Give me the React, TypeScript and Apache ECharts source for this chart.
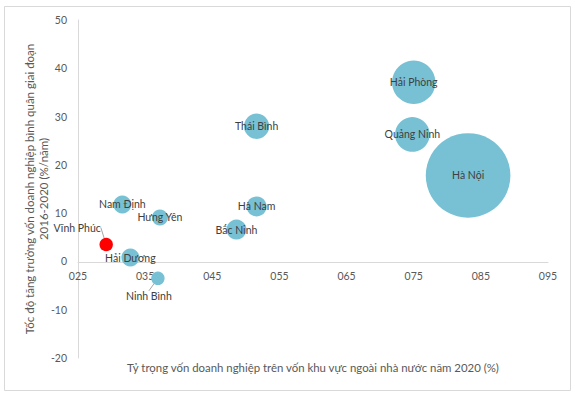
import React, { useEffect, useRef } from "react";
import * as echarts from "echarts";

const provinces = ["Hà Nội", "Hải Phòng", "Quảng Ninh", "Thái Bình", "Hà Nam", "Bắc Ninh", "Nam Định", "Hưng Yên", "Hải Dương", "Ninh Bình", "Vĩnh Phúc"];
const shareValues = [0.831, 0.75, 0.748, 0.516, 0.516, 0.486, 0.316, 0.372, 0.328, 0.369, 0.292];
const growthValues = [17.8, 37.1, 26.3, 28.0, 11.4, 6.6, 11.8, 9.1, 0.8, -3.5, 3.5];
const sizeValues = [1790, 470, 300, 160, 100, 100, 81, 64, 81, 45, 45];
const xTicks = { min: 0.25, max: 0.95, interval: 0.1 };
const yTicks = { min: -20, max: 50, interval: 10 };

const FONT = "Lato";

export default function App() {
  const ref = useRef<HTMLDivElement>(null);
  useEffect(() => {
    if (!ref.current) return;
    const chart = echarts.init(ref.current, null, { renderer: "svg" });
    const data = provinces.map((name, i) => {
      const item: any = {
        name,
        value: [shareValues[i], growthValues[i], sizeValues[i]],
        itemStyle: { color: name === "Vĩnh Phúc" ? "#FF0000" : "#78C1D4" },
      };
      if (name === "Vĩnh Phúc" || name === "Ninh Bình") {
        item.labelLine = { show: true, lineStyle: { color: "#A6A6A6", width: 1 } };
      }
      return item;
    });
    chart.setOption({
      animation: false,
      textStyle: { fontFamily: FONT },
      graphic: [
        {
          type: "rect",
          shape: { x: 4.5, y: 6.5, width: 566, height: 384 },
          style: { fill: "none", stroke: "#D9D9D9", lineWidth: 1 },
          silent: true,
        },
      ],
      grid: { left: 78, right: 27, top: 20, bottom: 39, containLabel: false, outerBoundsMode: "none" },
      xAxis: {
        type: "value",
        min: xTicks.min,
        max: xTicks.max,
        interval: xTicks.interval,
        position: "bottom",
        offset: -96,
        axisLine: { onZero: false, lineStyle: { color: "#D9D9D9", width: 1 } },
        axisTick: { show: false },
        splitLine: { show: false },
        axisLabel: {
          color: "#595959",
          fontSize: 10.5,
          fontFamily: FONT,
          margin: 8,
          formatter: (v: number) => String(Math.round(v * 100)).padStart(3, "0"),
        },
        name: "Tỷ trọng vốn doanh nghiệp trên vốn khu vực ngoài nhà nước năm 2020 (%)",
        nameLocation: "middle",
        nameGap: 100,
        nameMoveOverlap: false,
        nameTextStyle: { color: "#595959", fontSize: 11.4, fontFamily: FONT },
      },
      yAxis: {
        type: "value",
        min: yTicks.min,
        max: yTicks.max,
        interval: yTicks.interval,
        axisLine: { show: true, onZero: false, lineStyle: { color: "#D9D9D9", width: 1 } },
        axisTick: { show: false },
        splitLine: { show: false },
        axisLabel: { color: "#595959", fontSize: 10.5, fontFamily: FONT, margin: 11 },
        name: "Tốc độ tăng trưởng vốn doanh nghiệp bình quân giai đoạn\n2016-2020 (%/năm)",
        nameLocation: "middle",
        nameGap: 28,
        nameMoveOverlap: false,
        nameTextStyle: { color: "#595959", fontSize: 11.5, fontFamily: FONT, lineHeight: 14, align: "center" },
      },
      series: [
        {
          type: "scatter",
          data,
          symbolSize: (v: number[]) => 2 * Math.sqrt(v[2]),
          itemStyle: { opacity: 1 },
          label: {
            show: true,
            position: "inside",
            formatter: "{b}",
            color: "#404040",
            fontSize: 10.5,
            fontFamily: FONT,
          },
          labelLine: { show: false },
          labelLayout: (p: any) => {
            const name = provinces[p.dataIndex];
            if (name === "Vĩnh Phúc") return { dx: -29, dy: -17 };
            if (name === "Ninh Bình") return { dx: -9, dy: 18 };
            return {};
          },
        },
      ],
    });
    return () => chart.dispose();
  }, []);
  return (
    <div
      ref={ref}
      style={{ position: "fixed", left: 0, top: 0, width: 575, height: 397, background: "#fff" }}
    />
  );
}
